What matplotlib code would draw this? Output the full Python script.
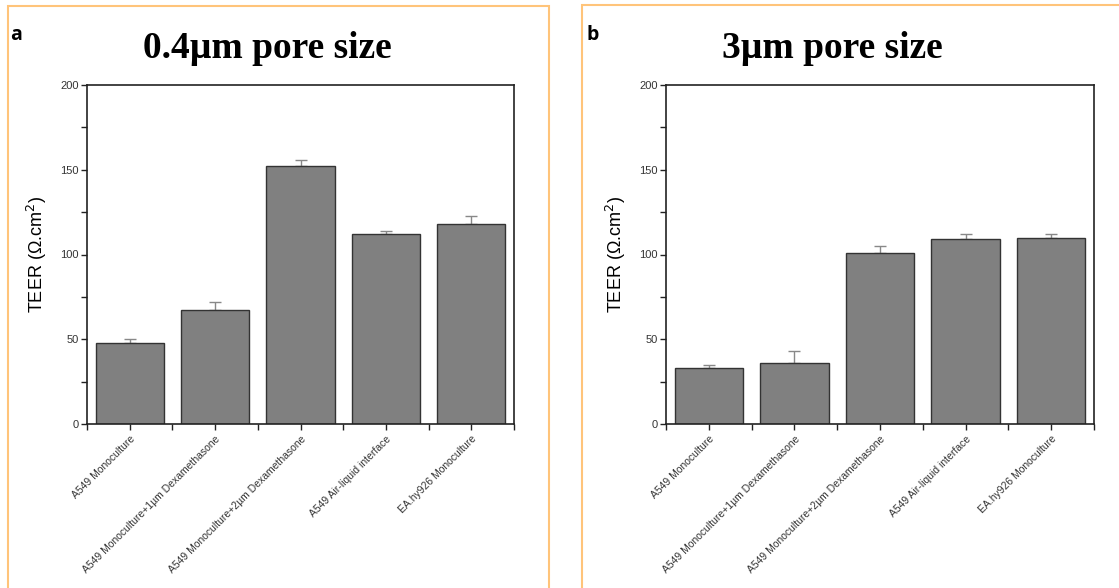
import matplotlib.pyplot as plt
import matplotlib.patches as patches
import numpy as np

# categories shared by both panels
categories = [
    "A549 Monoculture",
    "A549 Monoculture+1\u00b5m Dexamethasone",
    "A549 Monoculture+2\u00b5m Dexamethasone",
    "A549 Air-liquid interface",
    "EA.hy926 Monoculture",
]

# 0.4 um pore size
teer_04 = [48, 67, 152, 112, 118]
err_04 = [2, 5, 4, 2, 5]

# 3 um pore size
teer_3 = [33, 36, 101, 109, 110]
err_3 = [2, 7, 4, 3, 2]

titles = ["0.4\u00b5m pore size", "3\u00b5m pore size"]
panel_letters = ["a", "b"]

W, H = 1119, 588
fig = plt.figure(figsize=(W / 100, H / 100), dpi=100)

# orange panel frames (pixel coords -> figure fraction)
frames = [(8, 6, 549, 600), (582, 5, 1130, 600)]
for x0, y0, x1, y1 in frames:
    rect = patches.Rectangle((x0 / W, 1 - y1 / H), (x1 - x0) / W, (y1 - y0) / H,
                             transform=fig.transFigure, fill=False,
                             edgecolor="#FFC47A", linewidth=1.5, clip_on=False)
    fig.patches.append(rect)

axes_pos = [(87, 85, 514, 424), (666, 85, 1094, 424)]
data = [(teer_04, err_04), (teer_3, err_3)]
title_x = [267, 832]
letter_x = [10, 586]

x = np.arange(1, len(categories) + 1)

for i, (px0, py0, px1, py1) in enumerate(axes_pos):
    ax = fig.add_axes([px0 / W, 1 - py1 / H, (px1 - px0) / W, (py1 - py0) / H])
    vals, errs = data[i]
    ax.bar(x, vals, width=0.8, color="#808080", edgecolor="#333333", linewidth=1.0, zorder=2)
    ax.errorbar(x, vals, yerr=[np.zeros(len(errs)), errs], fmt="none",
                ecolor="#888888", elinewidth=1.0, capsize=4, capthick=1.0, zorder=1)
    ax.set_xlim(0.5, 5.5)
    ax.set_ylim(0, 200)
    ax.set_yticks([0, 50, 100, 150, 200])
    ax.set_yticks([25, 75, 125, 175], minor=True)
    ax.set_xticks(x)
    ax.set_xticks(np.arange(0.5, 6, 1.0), minor=True)
    ax.set_xticklabels(categories, rotation=45, ha="right", rotation_mode="anchor",
                       fontsize=7.5, color="#333333", fontfamily="Liberation Sans")
    for lab in ax.get_yticklabels():
        lab.set_fontsize(8)
        lab.set_color("#333333")
        lab.set_fontfamily("Liberation Sans")
    ax.tick_params(axis="both", which="both", direction="out", length=4, width=1.0,
                   color="#222222", pad=2)
    ax.tick_params(axis="x", which="major", pad=3)
    for s in ax.spines.values():
        s.set_linewidth(1.2)
        s.set_color("#222222")
    ax.set_ylabel("TEER (\u03a9.cm$^2$)", fontsize=13, fontfamily="Liberation Sans", labelpad=8)

    fig.text(title_x[i] / W, 1 - 48 / H, titles[i], ha="center", va="center",
             fontsize=27, fontweight="bold", fontfamily="Liberation Serif")
    fig.text(letter_x[i] / W, 1 - 35 / H, panel_letters[i], ha="left", va="center",
             fontsize=14, fontweight="bold", fontfamily="Open Sans")

fig.savefig("out.png", dpi=100, facecolor="white")
